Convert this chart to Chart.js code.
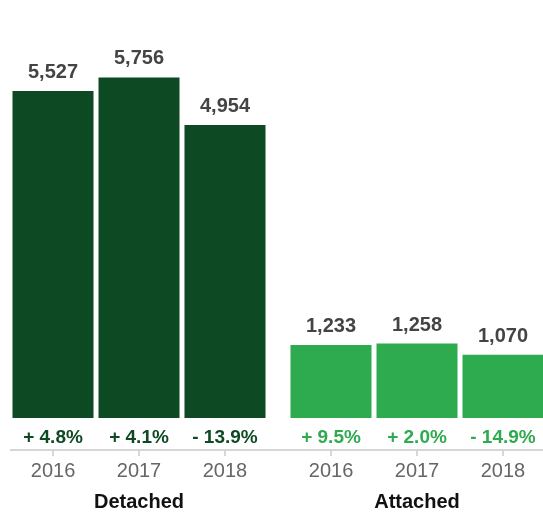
<!DOCTYPE html>
<html>
<head>
<meta charset="utf-8">
<script src="https://cdn.jsdelivr.net/npm/chart.js@4/dist/chart.umd.min.js"></script>
<style>
  html, body { margin: 0; padding: 0; background: #fff; overflow: hidden; }
  #wrap { width: 556px; height: 514px; }
</style>
</head>
<body>
<div id="wrap"><canvas id="salesChart" width="556" height="514"></canvas></div>
<script>
var groups = ['Detached', 'Attached'];
var years = ['2016', '2017', '2018'];
var detachedSales = [5527, 5756, 4954];
var attachedSales = [1233, 1258, 1070];
var detachedChange = [4.8, 4.1, -13.9];
var attachedChange = [9.5, 2.0, -14.9];

var DARK = '#0d4a23';
var LIGHT = '#2eaa4f';
var FONT = '"Liberation Sans", Arial, Helvetica, sans-serif';

function fmtChange(v) {
    return (v < 0 ? '- ' : '+ ') + Math.abs(v).toFixed(1) + '%';
}

// bar labels, change labels, years, group names and the axis line
var labelsPlugin = {
    id: 'labels',
    afterDatasetsDraw: function (chart) {
        var ctx = chart.ctx;
        var base = chart.chartArea.bottom;
        var lineY = base + 32;
        ctx.save();

        ctx.strokeStyle = '#d6d6d6';
        ctx.lineWidth = 2;
        ctx.beginPath();
        ctx.moveTo(10, lineY);
        ctx.lineTo(chart.width, lineY);
        ctx.stroke();

        ctx.textAlign = 'center';
        years.forEach(function (yr, i) {
            var meta = chart.getDatasetMeta(i);
            meta.data.forEach(function (bar, g) {
                var value = g === 0 ? detachedSales[i] : attachedSales[i];
                var change = g === 0 ? detachedChange[i] : attachedChange[i];

                ctx.fillStyle = '#444';
                ctx.font = 'bold 20px ' + FONT;
                ctx.textBaseline = 'alphabetic';
                ctx.fillText(value.toLocaleString('en-US'), bar.x, bar.y - 13);

                ctx.fillStyle = g === 0 ? DARK : LIGHT;
                ctx.font = 'bold 19px ' + FONT;
                ctx.textBaseline = 'middle';
                ctx.fillText(fmtChange(change), bar.x, base + 20);

                ctx.strokeStyle = '#d6d6d6';
                ctx.lineWidth = 2;
                ctx.beginPath();
                ctx.moveTo(bar.x, lineY);
                ctx.lineTo(bar.x, lineY + 6);
                ctx.stroke();

                ctx.fillStyle = '#666';
                ctx.font = '20px ' + FONT;
                ctx.fillText(yr, bar.x, base + 53);
            });
        });

        ctx.fillStyle = '#111';
        ctx.font = 'bold 20px ' + FONT;
        groups.forEach(function (name, g) {
            ctx.fillText(name, chart.scales.x.getPixelForValue(g), base + 84);
        });
        ctx.restore();
    }
};

new Chart(document.getElementById('salesChart'), {
    type: 'bar',
    data: {
        labels: groups,
        datasets: years.map(function (yr, i) {
            return {
                label: yr,
                data: [detachedSales[i], attachedSales[i]],
                backgroundColor: [DARK, LIGHT],
                borderWidth: 0,
                categoryPercentage: 0.928,
                barPercentage: 0.942
            };
        })
    },
    options: {
        responsive: false,
        animation: false,
        layout: { padding: { top: 63, bottom: 96, left: 0, right: 0 } },
        plugins: {
            legend: { display: false },
            tooltip: { enabled: false }
        },
        scales: {
            x: { display: false, offset: true },
            y: {
                display: false,
                min: 0,
                max: 6000
            }
        }
    },
    plugins: [labelsPlugin]
});
</script>
</body>
</html>
